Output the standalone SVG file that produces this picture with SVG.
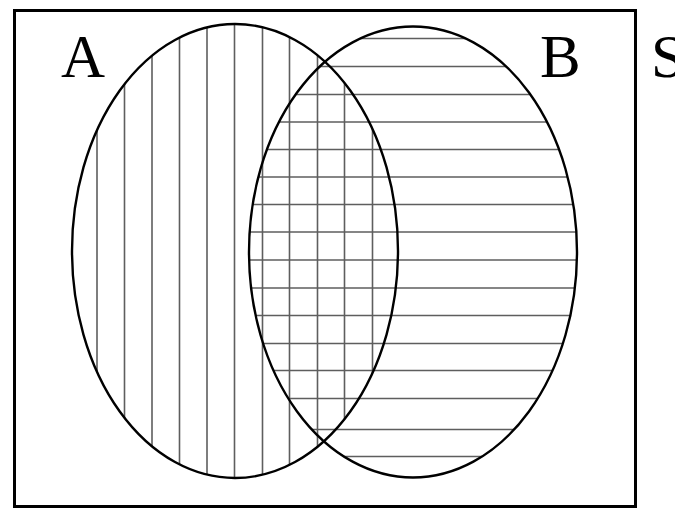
<svg xmlns="http://www.w3.org/2000/svg" width="675" height="509" viewBox="0 0 675 509">
  <style>
    .hatch { stroke: #5e5e5e; stroke-width: 1.6; fill: none; }
    .outline { stroke: #000; stroke-width: 2.4; fill: none; }
    .label { font-family: "Liberation Serif", "Times New Roman", serif; font-size: 61px; fill: #000; }
  </style>
  <defs>
    <clipPath id="clipA"><ellipse cx="235" cy="251" rx="163" ry="227"/></clipPath>
    <clipPath id="clipB"><ellipse cx="413" cy="252" rx="164" ry="225.5"/></clipPath>
  </defs>
  <rect x="0" y="0" width="675" height="509" fill="#fff"/>
  <g id="universe">
    <rect x="14.5" y="10.5" width="621" height="496" fill="none" stroke="#000" stroke-width="3"/>
    <text class="label" x="651" y="77">S</text>
  </g>
  <g id="setA">
    <g class="hatch" clip-path="url(#clipA)">
      <line x1="97" y1="0" x2="97" y2="509"/>
      <line x1="124.5" y1="0" x2="124.5" y2="509"/>
      <line x1="152" y1="0" x2="152" y2="509"/>
      <line x1="179.5" y1="0" x2="179.5" y2="509"/>
      <line x1="207" y1="0" x2="207" y2="509"/>
      <line x1="234.5" y1="0" x2="234.5" y2="509"/>
      <line x1="262.5" y1="0" x2="262.5" y2="509"/>
      <line x1="289.5" y1="0" x2="289.5" y2="509"/>
      <line x1="317.5" y1="0" x2="317.5" y2="509"/>
      <line x1="344.5" y1="0" x2="344.5" y2="509"/>
      <line x1="372.5" y1="0" x2="372.5" y2="509"/>
    </g>
    <text class="label" x="61" y="77">A</text>
  </g>
  <g id="setB">
    <g class="hatch" clip-path="url(#clipB)">
      <line x1="200" y1="38.5" x2="620" y2="38.5"/>
      <line x1="200" y1="66.5" x2="620" y2="66.5"/>
      <line x1="200" y1="94.5" x2="620" y2="94.5"/>
      <line x1="200" y1="122" x2="620" y2="122"/>
      <line x1="200" y1="149.5" x2="620" y2="149.5"/>
      <line x1="200" y1="177" x2="620" y2="177"/>
      <line x1="200" y1="204.5" x2="620" y2="204.5"/>
      <line x1="200" y1="232" x2="620" y2="232"/>
      <line x1="200" y1="260" x2="620" y2="260"/>
      <line x1="200" y1="288" x2="620" y2="288"/>
      <line x1="200" y1="315.5" x2="620" y2="315.5"/>
      <line x1="200" y1="343.5" x2="620" y2="343.5"/>
      <line x1="200" y1="370.5" x2="620" y2="370.5"/>
      <line x1="200" y1="398.5" x2="620" y2="398.5"/>
      <line x1="200" y1="429.5" x2="620" y2="429.5"/>
      <line x1="200" y1="456.5" x2="620" y2="456.5"/>
    </g>
    <text class="label" x="540" y="77">B</text>
  </g>
  <g id="outlines">
    <ellipse class="outline" cx="235" cy="251" rx="163" ry="227"/>
    <ellipse class="outline" cx="413" cy="252" rx="164" ry="225.5"/>
  </g>
</svg>
